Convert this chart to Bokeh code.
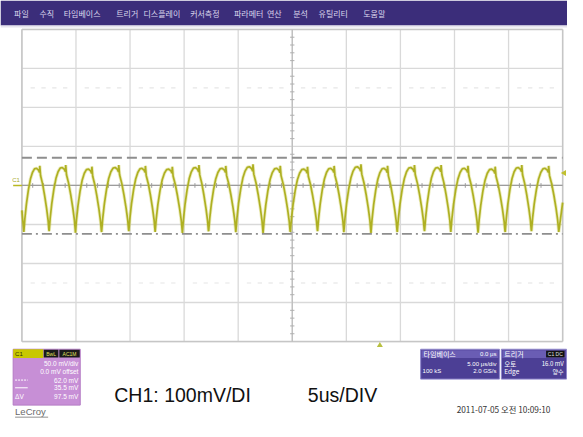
import numpy as np
from bokeh.plotting import figure
from bokeh.models import Range1d
from bokeh.core.properties import value
from bokeh.embed import file_html
from bokeh.resources import INLINE

# ---------------- data ----------------
menu_items = ["파일", "수직", "타임베이스", "트리거", "디스플레이", "커서측정",
              "파라메터", "연산", "분석", "유틸리티", "도움말"]

time_per_div_us = 5.0
volt_per_div_mv = 50.0
n_div_x = 10
n_div_y = 8

# cusp (trough) times, in microseconds
trough_times_us = [0.18, 2.52, 4.95, 7.37, 9.89, 12.32, 14.84, 17.27, 19.78, 22.30,
                   24.82, 27.34, 29.77, 32.28, 34.71, 37.23, 39.66, 42.18, 44.69,
                   47.12, 49.64]
# per-cycle peak and trough levels (mV)
peak_mv = [22, 23, 21, 23, 22, 21, 23, 22, 24, 22, 21, 22, 24, 22, 23, 23, 22, 21, 23, 22]
trough_mv = [-55, -54, -56, -55, -54, -55, -56, -54, -55, -56, -55, -54, -55, -56,
             -55, -54, -55, -56, -55, -54, -55]
# one cycle of the trace shape (0 = trough, 1 = peak)
cycle_phase = [0.00, 0.04, 0.10, 0.18, 0.26, 0.34, 0.42, 0.50, 0.58, 0.62, 0.63,
               0.66, 0.74, 0.82, 0.90, 0.96, 0.99]
cycle_level = [-0.06, 0.16, 0.40, 0.64, 0.82, 0.93, 0.99, 1.00, 0.97, 0.93, 1.04,
               0.88, 0.74, 0.55, 0.33, 0.13, -0.02]
trace_start = (0.0, -32.0)
trace_end = (50.0, -22.0)

cursor_top_mv = 35.5
cursor_bottom_mv = -62.0
trigger_level_mv = 16.0
trigger_time_us = 33.1

c1_lines = ["50.0 mV/div", "0.0 mV offset", "62.0 mV", "35.5 mV", "97.5 mV"]
tb_lines = ["5.00 μs/div", "2.0 GS/s"]
tb_left = ["100 kS"]
trig_right = ["16.0 mV", "양수"]
trig_left = ["오토", "Edge"]
caption_left = "CH1: 100mV/DI"
caption_right = "5us/DIV"
timestamp = "2011-07-05 오전 10:09:10"

# ---------------- layout (reference-pixel coordinates) ----------------
W, H = 567, 421
RW, RH = 583, 437
GX0, GX1, GY0, GY1 = 22, 578, 30, 354
us_px = n_div_x * time_per_div_us / (GX1 - GX0)
mv_px = n_div_y * volt_per_div_mv / (GY1 - GY0)
gyc = (GY0 + GY1) / 2.0
TMAX = n_div_x * time_per_div_us
VMAX = n_div_y * volt_per_div_mv / 2

p = figure(width=W, height=H, x_range=Range1d(0, RW), y_range=Range1d(RH, 0),
           x_axis_location=None, y_axis_location=None, toolbar_location=None,
           output_backend="svg", min_border=0)
p.extra_x_ranges = {"t": Range1d(-GX0 * us_px, (RW - GX0) * us_px)}
p.extra_y_ranges = {"v": Range1d(-(RH - gyc) * mv_px, gyc * mv_px)}
p.grid.visible = False
p.outline_line_color = None
p.background_fill_color = "white"
p.border_fill_color = "white"

KR = value("Noto Sans CJK KR")
AR = value("Liberation Sans")

# menu bar
p.quad(left=0, right=RW, top=0, bottom=26, fill_color="#3b2d7a", line_color=None)
p.quad(left=0, right=RW, top=26, bottom=28, fill_color="#e6e4ee", line_color=None)
menu_x = [14, 40, 65, 119, 147, 195, 240, 274, 301, 327, 373]
p.text(x=menu_x, y=[14] * len(menu_items), text=menu_items, text_font=KR,
       text_font_size="8px", text_color="#dcd8ee", text_baseline="middle")

TR = dict(x_range_name="t", y_range_name="v")

# faint tick rows at +-2.5 div
tick_t = [i for i in range(1, int(TMAX)) if i % 5]
for lvl in (2.5 * volt_per_div_mv, -2.5 * volt_per_div_mv):
    p.segment(x0=[t - 0.2 for t in tick_t], x1=[t + 0.2 for t in tick_t],
              y0=lvl, y1=lvl, line_color="#e6e6e6", line_width=1.2, **TR)

# grid
vt = [i * time_per_div_us for i in range(n_div_x + 1)]
hv = [-VMAX + i * volt_per_div_mv for i in range(n_div_y + 1)]
p.segment(x0=vt, x1=vt, y0=-VMAX, y1=VMAX, line_color="#d9d9d9", line_width=1.3, **TR)
p.segment(x0=0, x1=TMAX, y0=hv, y1=hv, line_color="#d9d9d9", line_width=1.3, **TR)
p.segment(x0=[0, TMAX], x1=[0, TMAX], y0=-VMAX, y1=VMAX, line_color="#c6c6c6", line_width=1.5, **TR)
p.segment(x0=0, x1=TMAX, y0=[-VMAX, VMAX], y1=[-VMAX, VMAX], line_color="#c6c6c6", line_width=1.5, **TR)
# centre cross
p.segment(x0=0, x1=TMAX, y0=0, y1=0, line_color="#9c9c9c", line_width=1.2, **TR)
p.segment(x0=TMAX / 2, x1=TMAX / 2, y0=-VMAX, y1=VMAX, line_color="#bcbcbc", line_width=1.2, **TR)
p.segment(x0=tick_t, x1=tick_t, y0=-3, y1=3, line_color="#9c9c9c", line_width=1, **TR)
vtick = [v for v in range(-int(VMAX) + 10, int(VMAX), 10) if v % 50]
p.segment(x0=TMAX / 2 - 0.2, x1=TMAX / 2 + 0.2, y0=vtick, y1=vtick, line_color="#b0b0b0", line_width=1, **TR)

# cursors
p.segment(x0=0, x1=TMAX, y0=cursor_top_mv, y1=cursor_top_mv, line_color="#8e8e8e",
          line_width=1.8, line_dash="10 5", **TR)
p.segment(x0=0, x1=TMAX, y0=cursor_bottom_mv, y1=cursor_bottom_mv, line_color="#8e8e8e",
          line_width=1.8, line_dash="10 4 2 4", **TR)

# trace
ts, vs = [trace_start[0]], [trace_start[1]]
for k in range(len(peak_mv)):
    t0, t1 = trough_times_us[k], trough_times_us[k + 1]
    lo, hi = trough_mv[k], peak_mv[k]
    for ph, lv in zip(cycle_phase, cycle_level):
        ts.append(t0 + ph * (t1 - t0))
        vs.append(lo + (hi - lo) * lv)
ts.append(trough_times_us[-1])
vs.append(trough_mv[-1] + (peak_mv[-1] - trough_mv[-1]) * cycle_level[0])
ts.append(trace_end[0])
vs.append(trace_end[1])
p.line(ts, vs, line_color="#c8c848", line_width=3.4, line_alpha=0.35, **TR)
p.line(ts, vs, line_color="#aeb022", line_width=1.7, **TR)

# channel marker at left
p.segment(x0=13, x1=GX0, y0=gyc, y1=gyc, line_color="#b8b820", line_width=1.5)
p.text(x=[12], y=[186], text=["C1"], text_font=AR, text_font_size="6px",
       text_color="#a8a820", text_baseline="middle")
# trigger level marker at right
p.scatter(x=[TMAX + 0.15], y=[trigger_level_mv], marker="triangle", angle=np.pi / 2,
          size=6, fill_color="#c0c030", line_color=None, **TR)
# trigger time marker below grid
p.scatter(x=[trigger_time_us], y=[358], marker="triangle", size=6,
          fill_color="#b8c040", line_color=None, x_range_name="t")

# ---- C1 box ----
p.quad(left=13, right=82, top=362, bottom=420, fill_color="#c78fd6", line_color="#b47cc4")
p.quad(left=13, right=44, top=362, bottom=371, fill_color="#c8c800", line_color=None)
p.quad(left=44.5, right=59.5, top=362.5, bottom=370.5, fill_color="#1a1a1a", line_color=None)
p.quad(left=60.5, right=81.5, top=362.5, bottom=370.5, fill_color="#1a1a1a", line_color=None)
p.text(x=[15], y=[366.5], text=["C1"], text_font=AR, text_font_size="6px",
       text_color="#303000", text_baseline="middle")
p.text(x=[52, 71], y=[366.5, 366.5], text=["BwL", "AC1M"], text_font=AR,
       text_font_size="5px", text_color="#e0e060", text_baseline="middle", text_align="center")
p.text(x=[80] * 5, y=[377, 385, 394, 402, 411], text=c1_lines, text_font=AR,
       text_font_size="6.5px", text_color="white", text_baseline="middle", text_align="right")
p.segment(x0=15, x1=28, y0=394, y1=394, line_color="white", line_width=1, line_dash="2 1")
p.segment(x0=15, x1=28, y0=402, y1=402, line_color="white", line_width=1)
p.text(x=[15], y=[411], text=["ΔV"], text_font=AR, text_font_size="6.5px",
       text_color="white", text_baseline="middle")
p.text(x=[15], y=[427], text=["LeCroy"], text_font=AR, text_font_size="9.5px",
       text_color="#6a6a6a", text_baseline="middle")
p.segment(x0=15, x1=49, y0=432.5, y1=432.5, line_color="#909090", line_width=1)

# ---- captions ----
p.text(x=[117, 316], y=[409, 409], text=[caption_left, caption_right], text_font=AR,
       text_font_size="19.5px", text_color="#111111", text_baseline="middle")
p.text(x=[469], y=[424], text=[timestamp], text_font=KR, text_font_size="8.3px",
       text_color="#333333", text_baseline="middle")

# ---- timebase box ----
p.quad(left=432, right=513, top=362, bottom=393, fill_color="#4c3f95", line_color="#9088cc")
p.quad(left=433, right=512, top=363, bottom=371, fill_color="#6a5db4", line_color=None)
p.text(x=[435], y=[367], text=["타임베이스"], text_font=KR, text_font_size="7px",
       text_color="white", text_baseline="middle")
p.text(x=[510], y=[367], text=["0.0 μs"], text_font=AR, text_font_size="6px",
       text_color="white", text_baseline="middle", text_align="right")
p.text(x=[510, 510], y=[377, 385], text=tb_lines, text_font=AR, text_font_size="6px",
       text_color="white", text_baseline="middle", text_align="right")
p.text(x=[434], y=[385], text=tb_left, text_font=AR, text_font_size="6px",
       text_color="white", text_baseline="middle")

# ---- trigger box ----
p.quad(left=515, right=582, top=362, bottom=393, fill_color="#4c3f95", line_color="#9088cc")
p.quad(left=516, right=581, top=363, bottom=371, fill_color="#6a5db4", line_color=None)
p.quad(left=561, right=580, top=363.5, bottom=370.5, fill_color="#111111", line_color=None)
p.text(x=[518], y=[367], text=["트리거"], text_font=KR, text_font_size="7px",
       text_color="white", text_baseline="middle")
p.text(x=[570.5], y=[367], text=["C1 DC"], text_font=AR, text_font_size="5px",
       text_color="#e0e0e0", text_baseline="middle", text_align="center")
p.text(x=[518, 518], y=[377, 385], text=trig_left, text_font=KR, text_font_size="6.5px",
       text_color="white", text_baseline="middle")
p.text(x=[579, 579], y=[377, 385], text=trig_right, text_font=KR, text_font_size="6px",
       text_color="white", text_baseline="middle", text_align="right")

open("out.html", "w").write(file_html(p, INLINE))
